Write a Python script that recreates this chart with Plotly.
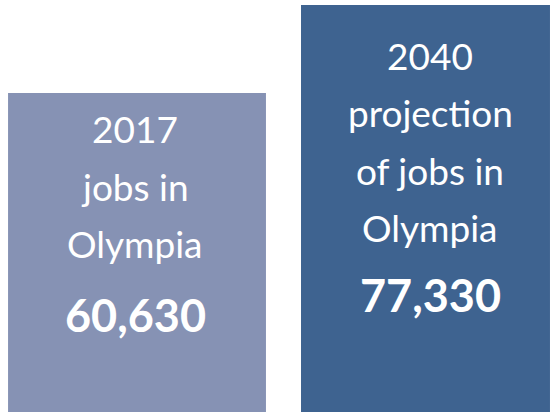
import plotly.graph_objects as go

# Job counts for Olympia
categories = ["2017", "2040"]
jobs = [60630, 77330]
captions = [
    ["2017", "jobs in", "Olympia"],
    ["2040", "projection", "of jobs in", "Olympia"],
]

bar_colors = ["#8692b4", "#3e6390"]
bar_widths = [0.894, 0.863]
positions = list(range(len(categories)))

fig = go.Figure(
    go.Bar(
        x=positions,
        y=jobs,
        width=bar_widths,
        marker=dict(color=bar_colors, line=dict(width=0)),
        hoverinfo="skip",
        showlegend=False,
    )
)

# caption layout per bar: first-line offset below bar top, line pitch, number offset, horizontal nudge
first_offset = [36, 50]
line_pitch = 57.5
number_offset = [222, 290]
x_nudge = [-2, 4.5]

annotations = []
for i, (pos, val) in enumerate(zip(positions, jobs)):
    for j, line in enumerate(captions[i]):
        annotations.append(dict(
            x=pos, y=val, xref="x", yref="y",
            text=line, showarrow=False,
            xanchor="center", yanchor="middle",
            xshift=x_nudge[i], yshift=-(first_offset[i] + j * line_pitch),
            font=dict(family="Lato", size=37, color="white"),
        ))
    annotations.append(dict(
        x=pos, y=val, xref="x", yref="y",
        text=f"<b>{val:,}</b>", showarrow=False,
        xanchor="center", yanchor="middle",
        xshift=x_nudge[i], yshift=-number_offset[i],
        font=dict(family="Lato", size=45, color="white"),
    ))

fig.update_layout(
    width=552, height=412,
    margin=dict(l=0, r=0, t=5, b=0),
    paper_bgcolor="white", plot_bgcolor="white",
    xaxis=dict(range=[-0.4749, 1.4385], visible=False, fixedrange=True),
    yaxis=dict(range=[0, max(jobs)], visible=False, fixedrange=True),
    annotations=annotations,
)

fig.write_html("out.html", config={"displayModeBar": False})
